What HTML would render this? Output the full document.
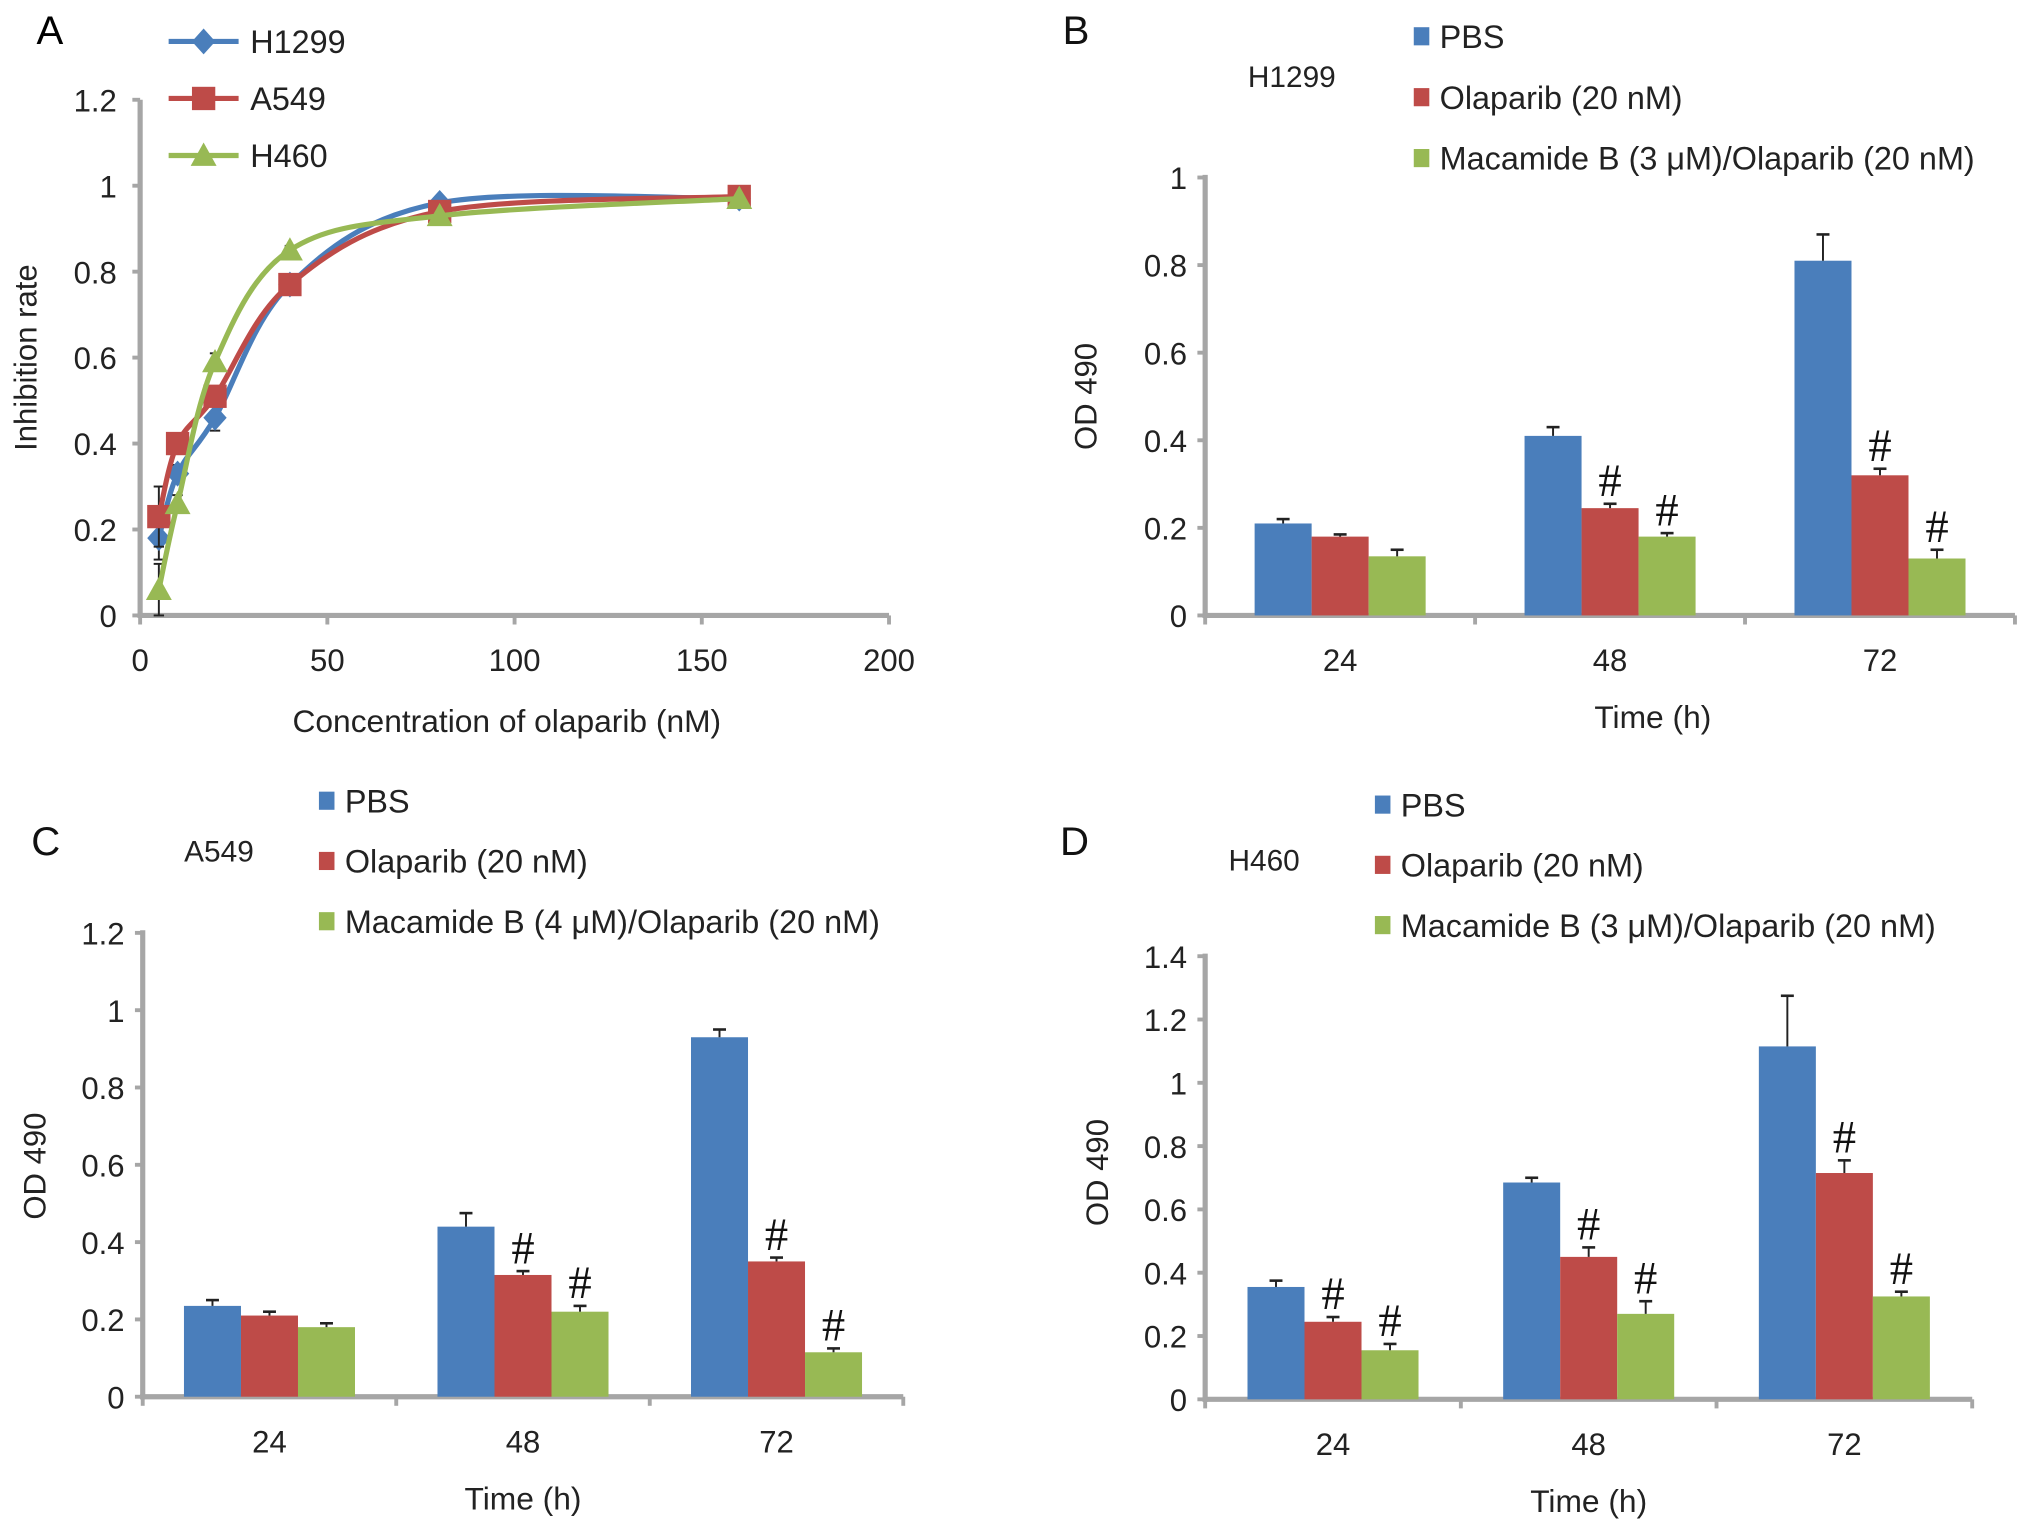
<!DOCTYPE html>
<html><head><meta charset="utf-8"><style>
html,body{margin:0;padding:0;background:#fff;}
svg{display:block;font-family:"Liberation Sans",sans-serif;}
</style></head><body>
<svg id="fig" width="2032" height="1525" viewBox="0 0 1568 1177" xmlns="http://www.w3.org/2000/svg">
<g id="root"></g>
</svg>
<script>
// ---------- Panel A data ----------
const concA = [5, 10, 20, 40, 80, 160];
const aH1299 = [0.18, 0.33, 0.46, 0.77, 0.96, 0.97];
const aA549 = [0.23, 0.40, 0.51, 0.77, 0.94, 0.975];
const aH460 = [0.06, 0.26, 0.59, 0.85, 0.93, 0.97];
const aErrH1299 = [0.05, 0.02, 0.03, 0.01, 0.005, 0.005];
const aErrA549 = [0.07, 0.02, 0.02, 0.01, 0.005, 0.005];
const aErrH460 = [0.06, 0.02, 0.02, 0.01, 0.005, 0.005];
const aXTicks = [0, 50, 100, 150, 200];
const aYTicks = [0, 0.2, 0.4, 0.6, 0.8, 1, 1.2];
// ---------- Bar panels ----------
const timeCats = ["24", "48", "72"];
const legendLabelsB = ["PBS", "Olaparib (20 nM)", "Macamide B (3 \u03bcM)/Olaparib (20 nM)"];
const legendLabelsC = ["PBS", "Olaparib (20 nM)", "Macamide B (4 \u03bcM)/Olaparib (20 nM)"];
const legendLabelsD = ["PBS", "Olaparib (20 nM)", "Macamide B (3 \u03bcM)/Olaparib (20 nM)"];
const bPBS = [0.21, 0.41, 0.81];
const bOla = [0.18, 0.245, 0.32];
const bMac = [0.135, 0.18, 0.13];
const bErrPBS = [0.01, 0.02, 0.06];
const bErrOla = [0.005, 0.01, 0.015];
const bErrMac = [0.015, 0.008, 0.02];
const bSig = [[false,false,false],[false,true,true],[false,true,true]];
const bYTicks = [0, 0.2, 0.4, 0.6, 0.8, 1];
const cPBS = [0.235, 0.44, 0.93];
const cOla = [0.21, 0.315, 0.35];
const cMac = [0.18, 0.22, 0.115];
const cErrPBS = [0.015, 0.035, 0.02];
const cErrOla = [0.01, 0.01, 0.01];
const cErrMac = [0.01, 0.015, 0.01];
const cSig = [[false,false,false],[false,true,true],[false,true,true]];
const cYTicks = [0, 0.2, 0.4, 0.6, 0.8, 1, 1.2];
const dPBS = [0.355, 0.685, 1.115];
const dOla = [0.245, 0.45, 0.715];
const dMac = [0.155, 0.27, 0.325];
const dErrPBS = [0.02, 0.015, 0.16];
const dErrOla = [0.015, 0.03, 0.04];
const dErrMac = [0.02, 0.04, 0.015];
const dSig = [[false,true,true],[false,true,true],[false,true,true]];
const dYTicks = [0, 0.2, 0.4, 0.6, 0.8, 1, 1.2, 1.4];

const NS = "http://www.w3.org/2000/svg";
const root = document.getElementById("root");
const COLORS = ["#4a7ebb", "#be4b48", "#98b954"];
const AX = "#a6a6a6";
function mk(tag, attrs, parent, text) {
  const e = document.createElementNS(NS, tag);
  for (const k in attrs) e.setAttribute(k, attrs[k]);
  if (text !== undefined) e.textContent = text;
  (parent || root).appendChild(e);
  return e;
}
function fmt(v){ return String(Math.round(v*10)/10); }

// ---------- Panel A ----------
(function(){
  const g = mk("g", {});
  
  
  const x0 = 108, x1 = 686, y0 = 475, y1 = 77;
  const xs = v => x0 + (v/200)*(x1-x0);
  const ys = v => y0 - (v/1.2)*(y0-y1);
  const t = mk("text", {x: 28, y: 34, "font-size": 31}, g, "A");
  
  
  const ya = mk("line", {x1: x0, y1: y1, x2: x0, y2: y0+2, stroke: AX, "stroke-width": 4}, g);
  
  
  const xa = mk("line", {x1: x0-2, y1: y0, x2: x1, y2: y0, stroke: AX, "stroke-width": 4}, g);
  
  
  aYTicks.forEach(v => {
    mk("line", {x1: x0-6, y1: ys(v), x2: x0, y2: ys(v), stroke: AX, "stroke-width": 3}, g);
    const l = mk("text", {x: x0-18, y: ys(v)+9, "font-size": 24, "text-anchor": "end", fill: "#222"}, g, fmt(v));
    
    
  });
  aXTicks.forEach(v => {
    mk("line", {x1: xs(v), y1: y0, x2: xs(v), y2: y0+7, stroke: AX, "stroke-width": 3}, g);
    const l = mk("text", {x: xs(v), y: 518, "font-size": 24, "text-anchor": "middle", fill: "#222"}, g, String(v));
    
    
  });
  const xt = mk("text", {x: 391, y: 565, "font-size": 24.5, "text-anchor": "middle", fill: "#222"}, g, "Concentration of olaparib (nM)");
  
  
  const yt = mk("text", {x: 0, y: 0, "font-size": 24, "text-anchor": "middle", fill: "#222", transform: "translate(28,276) rotate(-90)"}, g, "Inhibition rate");
  
  
  function spline(pts){
    let d = "M" + pts[0][0] + "," + pts[0][1];
    for (let i=0;i<pts.length-1;i++){
      const p0 = pts[Math.max(0,i-1)], p1 = pts[i], p2 = pts[i+1], p3 = pts[Math.min(pts.length-1,i+2)];
      const c1x = p1[0]+(p2[0]-p0[0])/6, c1y = p1[1]+(p2[1]-p0[1])/6;
      const c2x = p2[0]-(p3[0]-p1[0])/6, c2y = p2[1]-(p3[1]-p1[1])/6;
      d += " C"+c1x+","+c1y+" "+c2x+","+c2y+" "+p2[0]+","+p2[1];
    }
    return d;
  }
  function marker(kind, cx, cy, color, parent){
    let m;
    if (kind==="d") m = mk("polygon", {points: `${cx},${cy-10} ${cx+9},${cy} ${cx},${cy+10} ${cx-9},${cy}`, fill: color}, parent);
    else if (kind==="s") m = mk("rect", {x: cx-9, y: cy-9, width: 18, height: 18, fill: color}, parent);
    else m = mk("polygon", {points: `${cx},${cy-10} ${cx+10},${cy+8} ${cx-10},${cy+8}`, fill: color}, parent);
    return m;
  }
  const series = [[aH1299, aErrH1299, "d", "H1299"], [aA549, aErrA549, "s", "A549"], [aH460, aErrH460, "t", "H460"]];
  series.forEach((s, si) => {
    const sg = mk("g", {}, g);
    
    
    const pts = concA.map((c,i) => [xs(c), ys(s[0][i])]);
    concA.forEach((c,i) => {
      const e = s[1][i];
      mk("line", {x1: xs(c), y1: ys(s[0][i]-e), x2: xs(c), y2: ys(s[0][i]+e), stroke: "#222", "stroke-width": 1.5}, sg);
      mk("line", {x1: xs(c)-4, y1: ys(s[0][i]+e), x2: xs(c)+4, y2: ys(s[0][i]+e), stroke: "#222", "stroke-width": 1.5}, sg);
      mk("line", {x1: xs(c)-4, y1: ys(s[0][i]-e), x2: xs(c)+4, y2: ys(s[0][i]-e), stroke: "#222", "stroke-width": 1.5}, sg);
    });
    const p = mk("path", {d: spline(pts), fill: "none", stroke: COLORS[si], "stroke-width": 4}, sg);
    
    
    pts.forEach(pt => {
      const m = marker(s[2], pt[0], pt[1], COLORS[si], sg);
      
      
    });
    const ly = 32 + si*44;
    const le = mk("g", {}, g);
    
    
    mk("line", {x1: 130, y1: ly, x2: 184, y2: ly, stroke: COLORS[si], "stroke-width": 4}, le);
    marker(s[2], 157, ly, COLORS[si], le);
    mk("text", {x: 193, y: ly+9, "font-size": 25, fill: "#222"}, le, s[3]);
  });
})();

// ---------- Bar panels ----------
function barPanel(o){
  const g = mk("g", {});
  
  
  const ys = v => o.y0 - (v/o.ymax)*(o.y0-o.y1);
  const L = mk("text", {x: o.lx, y: o.ly, "font-size": 31, fill: "#111"}, g, o.letter);
  
  
  const cl = mk("text", {x: o.cx, y: o.cy, "font-size": 23, fill: "#222"}, g, o.cell);
  
  
  o.legend.forEach((lab, i) => {
    const le = mk("g", {}, g);
    
    
    const y = o.legY + i*o.legStep;
    mk("rect", {x: o.legX, y: y-7, width: 12, height: 14, fill: COLORS[i]}, le);
    mk("text", {x: o.legX+20, y: y+9, "font-size": 25, fill: "#222"}, le, lab);
  });
  const ya = mk("line", {x1: o.x0, y1: o.y1-2, x2: o.x0, y2: o.y0+2, stroke: AX, "stroke-width": 4}, g);
  
  
  const xa = mk("line", {x1: o.x0-2, y1: o.y0, x2: o.x1, y2: o.y0, stroke: AX, "stroke-width": 4}, g);
  
  
  o.yTicks.forEach(v => {
    mk("line", {x1: o.x0-6, y1: ys(v), x2: o.x0, y2: ys(v), stroke: AX, "stroke-width": 3}, g);
    const l = mk("text", {x: o.x0-14, y: ys(v)+9, "font-size": 24, "text-anchor": "end", fill: "#222"}, g, fmt(v));
    
    
  });
  const n = o.cats.length, gw = (o.x1-o.x0)/n;
  for (let k=0;k<=n;k++) mk("line", {x1: o.x0+gw*k, y1: o.y0, x2: o.x0+gw*k, y2: o.y0+7, stroke: AX, "stroke-width": 3}, g);
  const bw = 44;
  o.cats.forEach((c, ci) => {
    const cx = o.x0 + gw*(ci+0.5);
    const l = mk("text", {x: cx, y: o.y0+43, "font-size": 24, "text-anchor": "middle", fill: "#222"}, g, c);
    
    
    o.series.forEach((s, si) => {
      const v = s[ci], e = o.errs[si][ci];
      const bx = cx - 1.5*bw + si*bw;
      const b = mk("rect", {x: bx, y: ys(v), width: bw, height: o.y0-ys(v), fill: COLORS[si]}, g);
      
      
      const mx = bx + bw/2;
      mk("line", {x1: mx, y1: ys(v), x2: mx, y2: ys(v+e), stroke: "#222", "stroke-width": 1.5}, g);
      mk("line", {x1: mx-5, y1: ys(v+e), x2: mx+5, y2: ys(v+e), stroke: "#222", "stroke-width": 2}, g);
      if (o.sig[ci][si]) {
        const h = mk("text", {x: mx, y: ys(v+e)-6, "font-size": 36, "text-anchor": "middle", fill: "#111", "font-family": "Liberation Serif, serif"}, g, "#");
        
        
      }
    });
  });
  const xt = mk("text", {x: o.x0 + (o.x1-o.x0)/2 + o.xtOff, y: o.y0+87, "font-size": 24.5, "text-anchor": "middle", fill: "#222"}, g, "Time (h)");
  
  
  const yt = mk("text", {x: 0, y: 0, "font-size": 24, "text-anchor": "middle", fill: "#222", transform: `translate(${o.ytx},${o.yty}) rotate(-90)`}, g, "OD 490");
  
  
}
barPanel({name: "panel-b", letter: "B", lx: 820, ly: 34, cell: "H1299", cx: 963, cy: 67,
  legend: legendLabelsB, legX: 1091, legY: 28, legStep: 47,
  x0: 930, x1: 1555, y0: 475, y1: 137, ymax: 1, yTicks: bYTicks, cats: timeCats,
  series: [bPBS, bOla, bMac], errs: [bErrPBS, bErrOla, bErrMac], sig: bSig,
  xtOff: 33, ytx: 846, yty: 306});
barPanel({name: "panel-c", letter: "C", lx: 24, ly: 660, cell: "A549", cx: 142, cy: 665,
  legend: legendLabelsC, legX: 246, legY: 618, legStep: 46.5,
  x0: 110, x1: 697, y0: 1078, y1: 720, ymax: 1.2, yTicks: cYTicks, cats: timeCats,
  series: [cPBS, cOla, cMac], errs: [cErrPBS, cErrOla, cErrMac], sig: cSig,
  xtOff: 0, ytx: 35, yty: 900});
barPanel({name: "panel-d", letter: "D", lx: 818, ly: 660, cell: "H460", cx: 948, cy: 672,
  legend: legendLabelsD, legX: 1061, legY: 621, legStep: 46.5,
  x0: 930, x1: 1522, y0: 1080, y1: 738, ymax: 1.4, yTicks: dYTicks, cats: timeCats,
  series: [dPBS, dOla, dMac], errs: [dErrPBS, dErrOla, dErrMac], sig: dSig,
  xtOff: 0, ytx: 855, yty: 905});
</script>
</body></html>
